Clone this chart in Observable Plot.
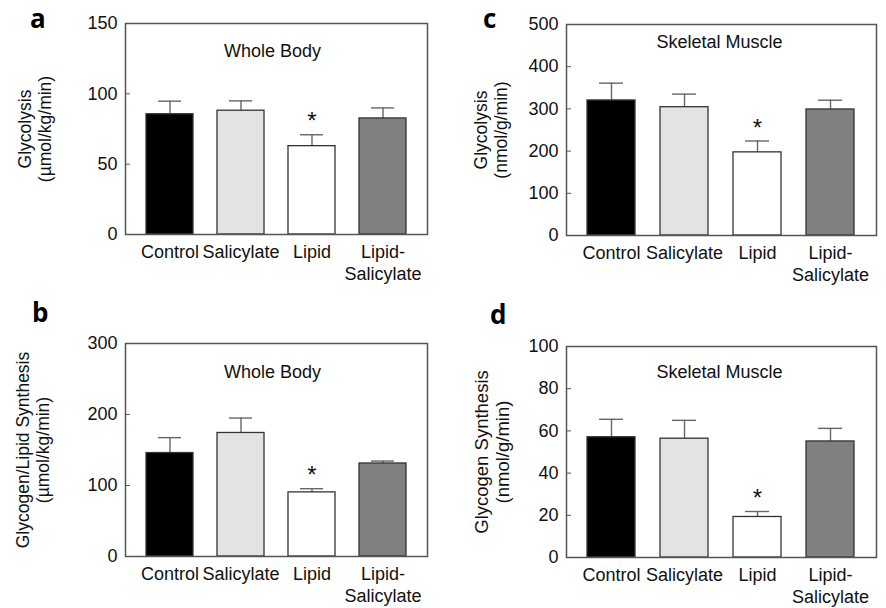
<!DOCTYPE html>
<html>
<head>
<meta charset="utf-8">
<script src="https://cdn.jsdelivr.net/npm/d3@7"></script>
<script src="https://cdn.jsdelivr.net/npm/@observablehq/plot@0.6"></script>
<style>
  html, body { margin: 0; padding: 0; background: #fff; }
  #wrap { position: relative; width: 886px; height: 608px; overflow: hidden; }
  .panel { position: absolute; }
  .letter { position: absolute; font-family: "Open Sans", "DejaVu Sans", sans-serif; font-weight: 700; font-size: 26px; line-height: normal; color: #000; }
</style>
</head>
<body>
<div id="wrap"></div>
<script>
// ---- data ----
const categories = ["Control", "Salicylate", "Lipid", "Lipid-\nSalicylate"];
const barFills = ["#000000", "#e3e3e3", "#ffffff", "#808080"];
const significant = [false, false, true, false];

// a: Whole body glycolysis (µmol/kg/min)
const wholeGlycolysis = [85.5, 88, 62.8, 82.5];
const wholeGlycolysisErr = [94.8, 95, 70.9, 90];
// b: Whole body glycogen/lipid synthesis (µmol/kg/min)
const wholeSynthesis = [145.7, 174, 90.3, 131];
const wholeSynthesisErr = [167.4, 195, 95.5, 134.4];
// c: Skeletal muscle glycolysis (nmol/g/min)
const muscleGlycolysis = [320, 304, 197, 298.6];
const muscleGlycolysisErr = [361, 335, 224, 320.6];
// d: Skeletal muscle glycogen synthesis (nmol/g/min)
const muscleSynthesis = [57, 56.3, 19.2, 55];
const muscleSynthesisErr = [65.5, 65, 21.8, 61.2];

const ticksA = [0, 50, 100, 150];
const ticksB = [0, 100, 200, 300];
const ticksC = [0, 100, 200, 300, 400, 500];
const ticksD = [0, 20, 40, 60, 80, 100];

const panels = [
  {letter: "a", left: 0, top: 0, w: 443, h: 300, m: [23, 16, 66, 125],
   values: wholeGlycolysis, errs: wholeGlycolysisErr, ticks: ticksA,
   title: "Whole Body", titleDy: 28, titleDx: -4,
   ylabel: "Glycolysis\n(µmol/kg/min)", ylabelDx: -91, ylabelSize: 17.5,
   lx: 30, ly: 0},
  {letter: "c", left: 443, top: 0, w: 443, h: 300, m: [24, 10, 65, 123],
   values: muscleGlycolysis, errs: muscleGlycolysisErr, ticks: ticksC,
   title: "Skeletal Muscle", titleDy: 18, titleDx: -2,
   ylabel: "Glycolysis\n(nmol/g/min)", ylabelDx: -76, ylabelSize: 17.5,
   lx: 483, ly: 0},
  {letter: "b", left: 0, top: 300, w: 443, h: 308, m: [43, 16, 52, 125],
   values: wholeSynthesis, errs: wholeSynthesisErr, ticks: ticksB,
   title: "Whole Body", titleDy: 28.5, titleDx: -4,
   ylabel: "Glycogen/Lipid Synthesis\n(µmol/kg/min)", ylabelDx: -93, ylabelSize: 17.5,
   lx: 32, ly: 294},
  {letter: "d", left: 443, top: 300, w: 443, h: 308, m: [46, 10, 51, 123],
   values: muscleSynthesis, errs: muscleSynthesisErr, ticks: ticksD,
   title: "Skeletal Muscle", titleDy: 25.5, titleDx: -2,
   ylabel: "Glycogen Synthesis\n(nmol/g/min)", ylabelDx: -75, ylabelSize: 18.5,
   lx: 490, ly: 296}
];

const wrap = document.getElementById("wrap");

for (const p of panels) {
  const rows = categories.map((c, i) => ({cat: c, value: p.values[i], err: p.errs[i], fill: barFills[i], sig: significant[i]}));
  const ymax = p.ticks[p.ticks.length - 1];
  const chart = Plot.plot({
    width: p.w,
    height: p.h,
    marginTop: p.m[0], marginRight: p.m[1], marginBottom: p.m[2], marginLeft: p.m[3],
    style: {fontFamily: "'Liberation Sans', Arial, Helvetica, sans-serif", fontSize: "18px", color: "#111", background: "transparent", overflow: "visible"},
    x: {domain: categories, paddingInner: 0.34, paddingOuter: 0.27, label: null},
    y: {domain: [0, ymax], label: null},
    color: {type: "identity"},
    marks: [
      Plot.axisY({ticks: p.ticks, tickSize: -5, tickPadding: 13, stroke: "#555", label: null, fontSize: 18}),
      Plot.axisX({tickSize: 0, tickPadding: 9, label: null, fontSize: 18, lineHeight: 1.17}),
      Plot.ruleX(rows, {x: "cat", y1: "value", y2: "err", stroke: "#666", strokeWidth: 1.4}),
      Plot.tickY(rows, {x: "cat", y: "err", stroke: "#666", strokeWidth: 1.4, insetLeft: 12, insetRight: 12}),
      Plot.barY(rows, {x: "cat", y: "value", fill: "fill", stroke: "#333", strokeWidth: 1.3}),
      Plot.frame({stroke: "#555", strokeWidth: 1.5}),
      Plot.text(rows.filter(d => d.sig), {x: "cat", y: "err", text: () => "*", dy: -13, fontSize: 24, fill: "#111", lineAnchor: "middle"}),
      Plot.text([p.title], {frameAnchor: "top", dy: p.titleDy, dx: p.titleDx, fontSize: 18, fill: "#111", lineAnchor: "middle", textAnchor: "middle"}),
      Plot.text([p.ylabel], {frameAnchor: "left", dx: p.ylabelDx, rotate: -90, fontSize: p.ylabelSize, lineHeight: 1.12, fill: "#111", textAnchor: "middle", lineAnchor: "middle"})
    ]
  });
  chart.classList.add("panel");
  chart.style.left = p.left + "px";
  chart.style.top = p.top + "px";
  wrap.appendChild(chart);

  const lab = document.createElement("div");
  lab.className = "letter";
  lab.textContent = p.letter;
  lab.style.left = p.lx + "px";
  lab.style.top = p.ly + "px";
  wrap.appendChild(lab);
}
</script>
</body>
</html>
